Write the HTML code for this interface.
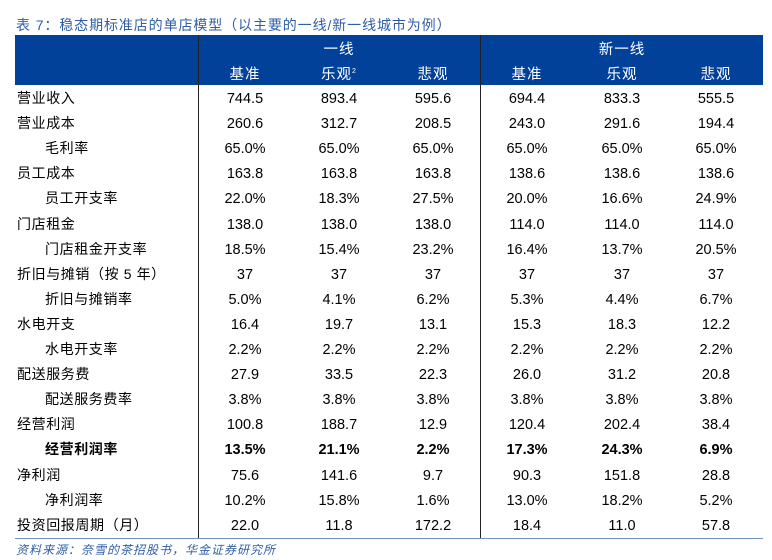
<!DOCTYPE html><html><head><meta charset="utf-8"><style>
body{margin:0;width:772px;height:560px;background:#fff;position:relative;font-family:"Liberation Sans","Noto Sans CJK SC",sans-serif;overflow:hidden}
.a{position:absolute;white-space:nowrap}
.t{left:16px;top:15px;font-size:14px;color:#2f5ea6;letter-spacing:0.9px}
.hd{position:absolute;left:15px;top:35px;width:748px;height:50px;background:#02419a}
.h{color:#fff;font-size:14.5px;letter-spacing:1px;transform:translateX(-50%)}
.n{font-size:14.5px;color:#000;transform:translateX(-50%)}
.l{font-size:14px;color:#000;letter-spacing:0.6px}
.b{font-weight:bold}
</style></head><body>
<div class="a t">表 7：稳态期标准店的单店模型（以主要的一线/新一线城市为例）</div>
<div class="hd"></div>
<div class="a" style="left:198px;top:35px;width:1px;height:503px;background:#222"></div>
<div class="a" style="left:480px;top:35px;width:1px;height:503px;background:#222"></div>
<div class="a" style="left:15px;top:538px;width:748px;height:1px;background:#6d8fc4"></div>
<div class="a h" style="left:339px;top:38px">一线</div>
<div class="a h" style="left:622px;top:38px">新一线</div>
<div class="a h" style="left:245px;top:63px">基准</div>
<div class="a h" style="left:339px;top:63px">乐观<sup style="font-size:7px">2</sup></div>
<div class="a h" style="left:433px;top:63px">悲观</div>
<div class="a h" style="left:527px;top:63px">基准</div>
<div class="a h" style="left:622px;top:63px">乐观</div>
<div class="a h" style="left:716px;top:63px">悲观</div>
<div id="rows"></div>
<div class="a" style="left:16px;top:541px;font-size:12px;color:#2f5ea6;font-style:italic;letter-spacing:1px">资料来源：奈雪的茶招股书，华金证券研究所</div>
<script>
var d=[["营业收入",0,"744.5","893.4","595.6","694.4","833.3","555.5"],
["营业成本",0,"260.6","312.7","208.5","243.0","291.6","194.4"],
["毛利率",1,"65.0%","65.0%","65.0%","65.0%","65.0%","65.0%"],
["员工成本",0,"163.8","163.8","163.8","138.6","138.6","138.6"],
["员工开支率",1,"22.0%","18.3%","27.5%","20.0%","16.6%","24.9%"],
["门店租金",0,"138.0","138.0","138.0","114.0","114.0","114.0"],
["门店租金开支率",1,"18.5%","15.4%","23.2%","16.4%","13.7%","20.5%"],
["折旧与摊销（按 5 年）",0,"37","37","37","37","37","37"],
["折旧与摊销率",1,"5.0%","4.1%","6.2%","5.3%","4.4%","6.7%"],
["水电开支",0,"16.4","19.7","13.1","15.3","18.3","12.2"],
["水电开支率",1,"2.2%","2.2%","2.2%","2.2%","2.2%","2.2%"],
["配送服务费",0,"27.9","33.5","22.3","26.0","31.2","20.8"],
["配送服务费率",1,"3.8%","3.8%","3.8%","3.8%","3.8%","3.8%"],
["经营利润",0,"100.8","188.7","12.9","120.4","202.4","38.4"],
["经营利润率",2,"13.5%","21.1%","2.2%","17.3%","24.3%","6.9%"],
["净利润",0,"75.6","141.6","9.7","90.3","151.8","28.8"],
["净利润率",1,"10.2%","15.8%","1.6%","13.0%","18.2%","5.2%"],
["投资回报周期（月）",0,"22.0","11.8","172.2","18.4","11.0","57.8"]];
var xs=[245,339,433,527,622,716],h="";
d.forEach(function(r,i){var y=89+i*25.1;var b=r[1]==2?" b":"";
h+='<div class="a l'+b+'" style="left:'+(r[1]?45:17)+'px;top:'+(y-1)+'px">'+r[0]+'</div>';
for(var j=0;j<6;j++)h+='<div class="a n'+b+'" style="left:'+xs[j]+'px;top:'+(y+2)+'px">'+r[j+2]+'</div>';});
document.getElementById("rows").innerHTML=h;
</script></body></html>
